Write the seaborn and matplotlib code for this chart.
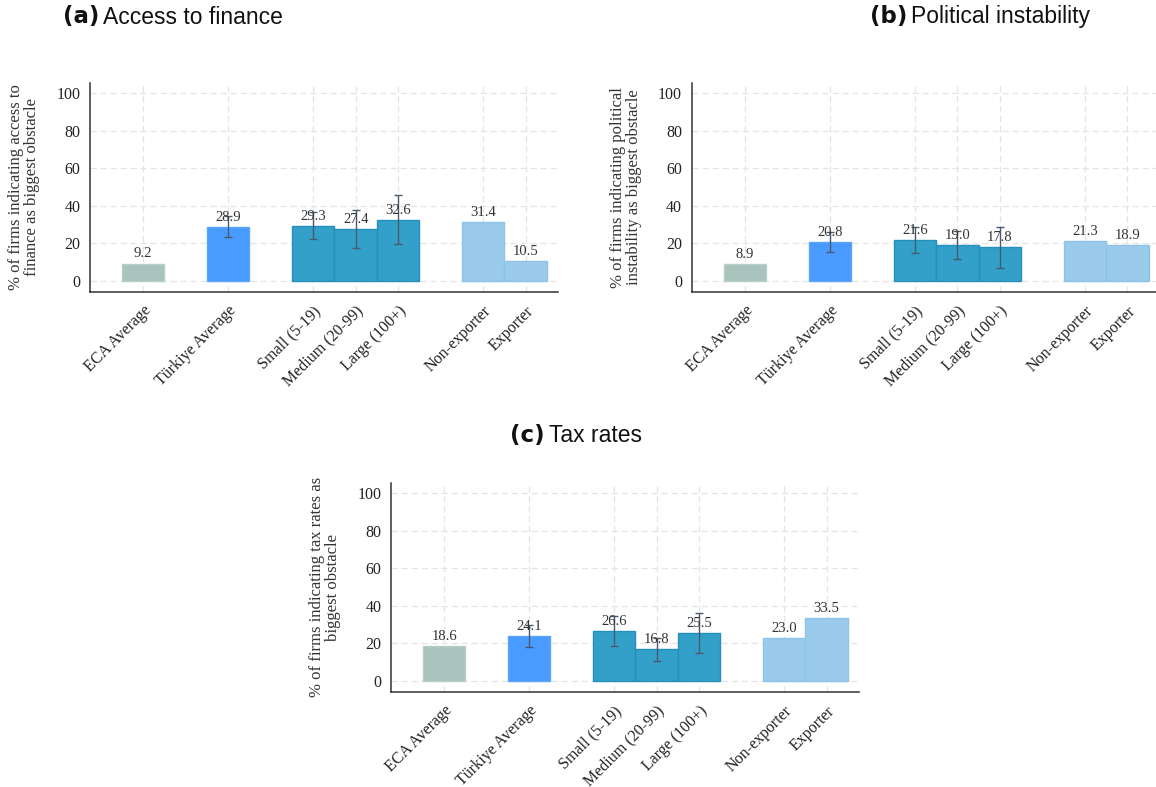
import numpy as np
import pandas as pd
import seaborn as sns
import matplotlib.pyplot as plt

# ---- data -------------------------------------------------------------
categories = ["ECA Average", "Türkiye Average", "Small (5-19)", "Medium (20-99)",
              "Large (100+)", "Non-exporter", "Exporter"]
groups = ["ECA", "Türkiye", "Size", "Size", "Size", "Export", "Export"]

finance = [9.2, 28.9, 29.3, 27.4, 32.6, 31.4, 10.5]
finance_lo = [np.nan, 23.5, 22.2, 17.3, 19.7, np.nan, np.nan]
finance_hi = [np.nan, 34.3, 36.4, 37.7, 45.7, np.nan, np.nan]

political = [8.9, 20.8, 21.6, 19.0, 17.8, 21.3, 18.9]
political_lo = [np.nan, 15.5, 14.9, 11.4, 6.9, np.nan, np.nan]
political_hi = [np.nan, 26.1, 28.8, 26.7, 28.8, np.nan, np.nan]

tax = [18.6, 24.1, 26.6, 16.8, 25.5, 23.0, 33.5]
tax_lo = [np.nan, 18.2, 18.6, 10.8, 14.7, np.nan, np.nan]
tax_hi = [np.nan, 30.0, 34.5, 22.8, 36.3, np.nan, np.nan]

yticks = [0, 20, 40, 60, 80, 100]

# ---- style ------------------------------------------------------------
sns.set_style("white")
plt.rcParams["font.family"] = ["Liberation Serif", "DejaVu Serif"]

fill = {"ECA": "#a9c4bd", "Türkiye": "#4a9bff", "Size": "#32a0c8", "Export": "#9bcbea"}
edge = {"ECA": "#b8cfc9", "Türkiye": "#5aa6ff", "Size": "#2590bd", "Export": "#8dc3e8"}

# bar positions: one-slot gap between groups
positions = []
p = 0
for i, g in enumerate(groups):
    if i > 0:
        p += 2 if g != groups[i - 1] else 1
    positions.append(p)

W, H = 1156, 787
fig = plt.figure(figsize=(W / 100, H / 100), dpi=100)
ax_w, ax_h = 467.5, 208.7


def make_axes(left_px, bottom_px):
    return fig.add_axes([left_px / W, 1 - bottom_px / H, ax_w / W, ax_h / H])


def draw_panel(ax, values, lo, hi, ylabel):
    df = pd.DataFrame({"pos": positions, "value": values, "group": groups,
                       "lo": lo, "hi": hi})
    ax.set_axisbelow(True)
    sns.barplot(data=df, x="pos", y="value", hue="group", palette=fill,
                native_scale=True, width=1.0, dodge=False, errorbar=None,
                legend=False, ax=ax, saturation=1, linewidth=1.0)
    # bar outlines per group
    for bar, (_, row) in zip(sorted(ax.patches, key=lambda b: b.get_x()),
                             df.sort_values("pos").iterrows()):
        bar.set_edgecolor(edge[row["group"]])
        bar.set_zorder(2)
    # confidence intervals
    ci = df.dropna(subset=["lo", "hi"])
    ax.errorbar(ci["pos"], ci["value"],
                yerr=[ci["value"] - ci["lo"], ci["hi"] - ci["value"]],
                fmt="none", ecolor="#4a5a6e", elinewidth=1.0, capsize=2.8,
                capthick=1.0, zorder=3)
    # value labels
    for x, v in zip(df["pos"], df["value"]):
        ax.annotate(f"{v:.1f}", (x, v), xytext=(0, 2.2), textcoords="offset points",
                    ha="center", va="bottom", fontsize=10.5, color="#333333", zorder=4)

    ax.set_xlim(-1.25, 9.75)
    ax.set_ylim(-5.8, 105.4)
    ax.set_xticks(positions)
    ax.set_xticklabels(categories, rotation=45, ha="right", rotation_mode="anchor",
                       fontsize=11.5, color="#222222")
    ax.set_yticks(yticks)
    ax.set_yticklabels([str(t) for t in yticks], fontsize=11.5, color="#222222")
    ax.tick_params(axis="x", length=4, color="#c8c8c8", width=1, pad=4)
    ax.tick_params(axis="y", length=5, color="#333333", width=0.9, pad=2)

    ax.grid(True, axis="both", color="#e4e4e4", linestyle=(0, (5, 3)), linewidth=0.9)
    for s in ["top", "right"]:
        ax.spines[s].set_visible(False)
    for s in ["left", "bottom"]:
        ax.spines[s].set_color("#333333")
        ax.spines[s].set_linewidth(1.1)

    ax.set_xlabel("")
    ax.set_ylabel(ylabel, fontsize=12, color="#333333", linespacing=1.0)
    ax.yaxis.set_label_coords(-0.107, 0.5)


ax_a = make_axes(90, 291.7)
ax_b = make_axes(691.7, 291.7)
ax_c = make_axes(391, 691.7)

draw_panel(ax_a, finance, finance_lo, finance_hi,
           "% of firms indicating access to\nfinance as biggest obstacle")
draw_panel(ax_b, political, political_lo, political_hi,
           "% of firms indicating political\ninstability as biggest obstacle")
draw_panel(ax_c, tax, tax_lo, tax_hi,
           "% of firms indicating tax rates as\nbiggest obstacle")

# ---- panel titles: bold letter + plain caption ------------------------
renderer = fig.canvas.get_renderer()


def panel_title(x_px, yc_px, letter, caption, size=16.5):
    t1 = fig.text(x_px / W, 1 - yc_px / H, letter, fontsize=size, fontweight="bold",
                  family=["DejaVu Sans"], va="center", ha="left",
                  color="#111111")
    bb = t1.get_window_extent(renderer)
    fig.text((bb.x1 + 4) / W, 1 - yc_px / H, caption, fontsize=size,
             family=["Liberation Sans", "DejaVu Sans"], va="center", ha="left",
             color="#111111")


panel_title(63, 17, "(a)", "Access to finance")
panel_title(870, 17, "(b)", "Political instability")
panel_title(510, 435, "(c)", "Tax rates")

fig.savefig("out.png", dpi=100, facecolor="white")
